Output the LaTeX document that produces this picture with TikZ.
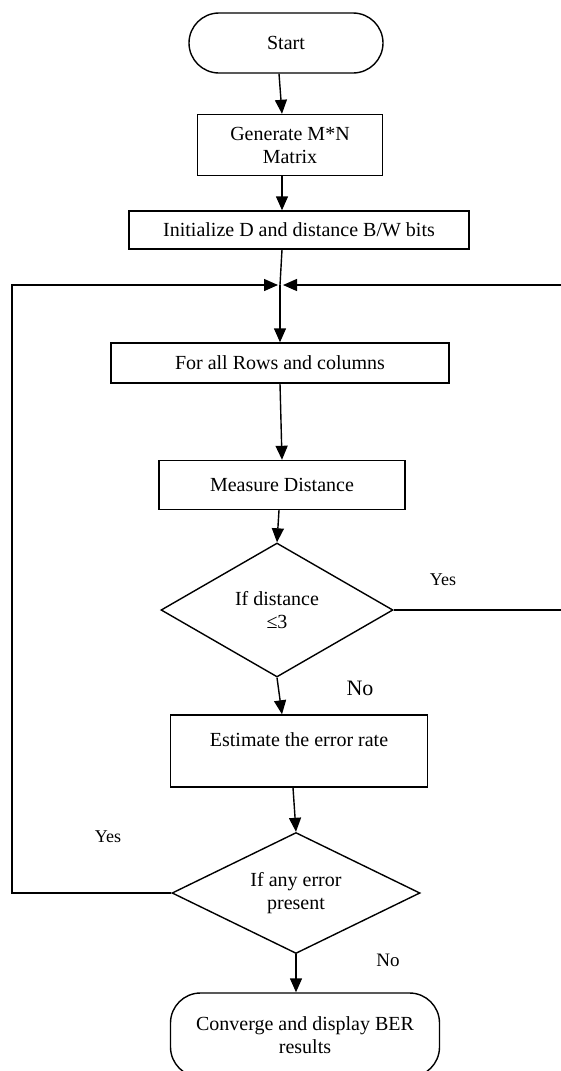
\documentclass[tikz,border=0pt]{standalone}
\usepackage{fontspec}
\setmainfont{Liberation Serif}
\usetikzlibrary{shapes,arrows.meta,positioning}
\tikzset{
    -{Triangle[length=14pt,width=12pt]},
    box/.style ={rectangle, draw, inner sep=0pt, align=center},
    term/.style ={rectangle, rounded corners=30pt, draw, inner sep=0pt, align=center},
    cond/.style ={diamond, aspect=2, draw, inner sep=0pt, align=center},
    lbl/.style = {inner sep=0pt}
}
\begin{document}
\begin{tikzpicture}[x=1pt,y=-1pt,line width=1.4pt,font=\fontsize{20}{23}\selectfont]
    \useasboundingbox (0,0) rectangle (560,1071);
    \node[term, minimum width=194pt, minimum height=60pt] (start) at (286,43) {Start};
     \node[box, minimum width=185pt, minimum height=61pt] (gen) at (290,145) {Generate M*N\\Matrix};
     \node[box, minimum width=340pt, minimum height=38pt] (init) at (299,230) {Initialize D and distance B/W bits};
      \coordinate (jn) at (280,285);
     \node[box, minimum width=338pt, minimum height=40pt] (rows) at (280,363) {For all Rows and columns};
     \node[box, minimum width=246pt, minimum height=49pt] (meas) at (282,485) {Measure Distance};
      \node[cond, minimum width=232pt, minimum height=134pt] (dist) at (277,610) {If distance\\≤3};
     \node[box, minimum width=257pt, text height=31pt, text depth=41pt] (est) at (299,751) {Estimate the error rate};
      \node[cond, minimum width=248pt, minimum height=121pt] (err) at (296,893) {If any error\\present};
    \node[term, minimum width=269pt, minimum height=84pt] (conv) at (305,1035) {Converge and display BER\\results};
      \coordinate (lft) at (12,285);
      \coordinate (rgt) at (562,285);

      \node[lbl] (yes1) at (443,580) {\fontsize{18}{20}\selectfont Yes};
      \node[lbl] (no1) at (360,688) {\fontsize{22}{24}\selectfont No};
      \node[lbl] (yes2) at (108,837) {\fontsize{18}{20}\selectfont Yes};
      \node[lbl] (no2) at (388,960) {\fontsize{19}{21}\selectfont No};

      \draw ([xshift=-7pt]start.south) -- ([xshift=-8pt]gen.north);
       \draw ([xshift=-8pt]gen.south) -- ([xshift=-17pt]init.north);
       \draw[-] ([xshift=-17pt]init.south) -- (jn);
       \draw (jn) -- (rows.north);
        \draw (rows.south) -- (meas.north);
        \draw ([xshift=-3pt]meas.south) -- (dist.north);
       \draw (dist.south) -- ([xshift=-17pt]est.north);
       \draw ([xshift=-6pt]est.south) -- (err.north);
        \draw (err.south) -- ([xshift=-9pt]conv.north);
       \draw (err.west) -| (lft) -- ([xshift=-2pt]jn);
       \draw (dist.east) -| (rgt) -- ([xshift=3pt]jn);

\end{tikzpicture}
\end{document}
